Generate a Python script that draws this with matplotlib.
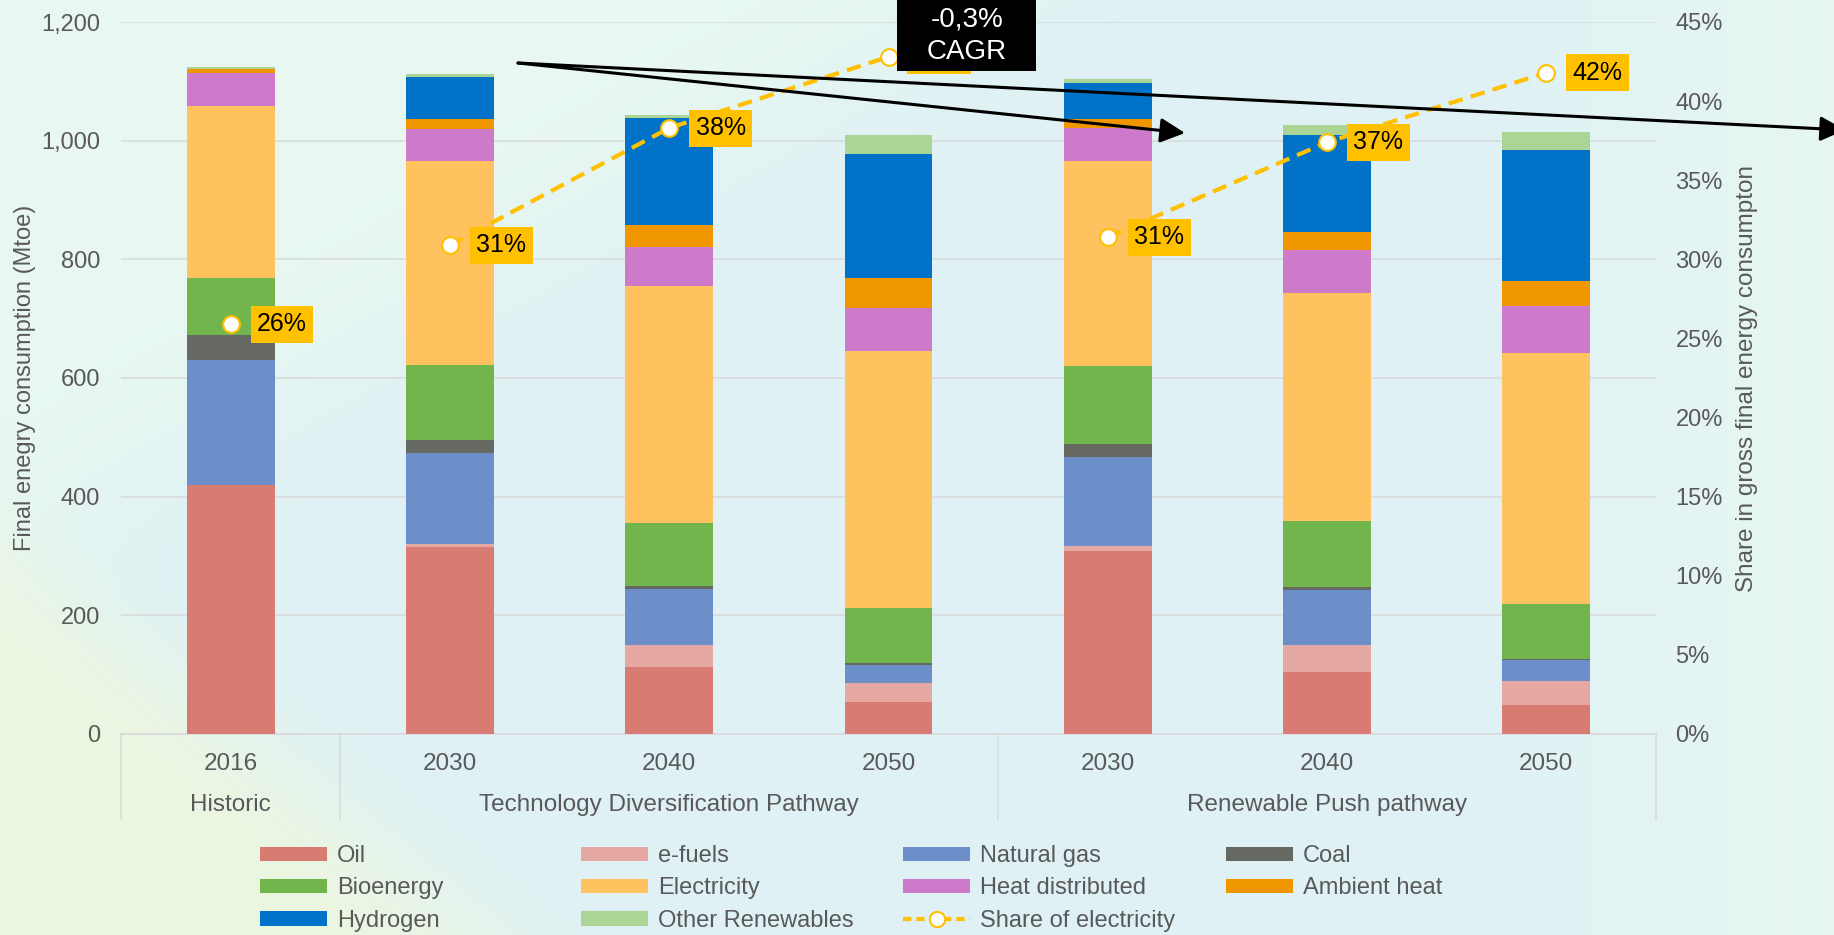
import numpy as np
import matplotlib
matplotlib.use('Agg')
import matplotlib.pyplot as plt
import matplotlib.transforms as mtransforms
from matplotlib.patches import Rectangle, FancyArrowPatch, Patch
from matplotlib.lines import Line2D
from matplotlib.colors import to_rgb
from matplotlib.ticker import FuncFormatter

plt.rcParams['font.family'] = ['Liberation Sans', 'DejaVu Sans']

# data (Mtoe)
years = ['2016', '2030', '2040', '2050', '2030', '2040', '2050']
groups = ['Historic', 'Technology Diversification Pathway', 'Renewable Push pathway']
group_members = [[0], [1, 2, 3], [4, 5, 6]]

oil = [420, 315, 113, 54, 308, 104, 49]
efuels = [0, 6, 37, 32, 9, 46, 40]
natural_gas = [210, 152, 95, 31, 150, 93, 35]
coal = [43, 23, 4, 3, 22, 4, 2]
bioenergy = [96, 126, 106, 93, 131, 112, 93]
electricity = [289, 343, 400, 432, 346, 384, 423]
heat_distributed = [56, 55, 65, 73, 55, 72, 79]
ambient_heat = [6, 16, 38, 50, 16, 31, 42]
hydrogen = [0, 71, 181, 210, 61, 163, 221]
other_renewables = [4, 5, 5, 31, 6, 18, 30]
share_electricity = [0.259, 0.309, 0.383, 0.428, 0.314, 0.374, 0.418]
covered_labels = [3]  # this share label sits under the CAGR callout

names = ['Oil', 'e-fuels', 'Natural gas', 'Coal', 'Bioenergy', 'Electricity',
         'Heat distributed', 'Ambient heat', 'Hydrogen', 'Other Renewables']
colors = ['#D87C73', '#E5A8A2', '#6C8FCA', '#666962', '#72B54D', '#FFC25E',
          '#CC7AC9', '#F09700', '#0073C8', '#AAD595']
stack = [oil, efuels, natural_gas, coal, bioenergy, electricity,
         heat_distributed, ambient_heat, hydrogen, other_renewables]

W, H = 1834, 935
grey = '#595959'
yellow = '#FFC000'

fig = plt.figure(figsize=(W / 100, H / 100), dpi=100)

# soft background
bg = fig.add_axes([0, 0, 1, 1], zorder=-10)
vv, uu = np.mgrid[0:187, 0:367]
uu = uu / 366
vv = vv / 186
blue = np.array(to_rgb('#DFF1F5'))
mint = np.array(to_rgb('#E9F8F1'))
green = np.array(to_rgb('#ECF7E1'))
m_mint = 1 / (1 + np.exp(((uu / 0.52 + vv / 0.58) - 1) * 9))
m_green = 1 / (1 + np.exp(-(vv - 0.58 - uu * 1.6) * 25))
m_right = np.clip((uu - 0.8) / 0.2, 0, 1) * 0.8
img = blue * (1 - m_mint[..., None]) + mint * m_mint[..., None]
img = img * (1 - m_right[..., None]) + mint * m_right[..., None]
img = img * (1 - m_green[..., None]) + green * m_green[..., None]
bg.imshow(img, aspect='auto', extent=[0, 1, 0, 1], interpolation='bilinear')
bg.axis('off')

ax = fig.add_axes([121 / W, 201 / H, 1535 / W, 712 / H])
ax.set_facecolor('none')
x = np.arange(len(years))
bottom = np.zeros(len(years))
for vals, color, name in zip(stack, colors, names):
    ax.bar(x, vals, 0.4, bottom=bottom, color=color, label=name, zorder=3)
    bottom += np.array(vals)

ax.set_xlim(-0.5, 6.5)
ax.set_ylim(0, 1200)
ax.set_yticks(np.arange(0, 1201, 200))
ax.yaxis.set_major_formatter(FuncFormatter(lambda v, p: f'{v:,.0f}'))
ax.set_axisbelow(True)
ax.grid(axis='y', color='#D9D9D9', lw=1.1)
for s in ['top', 'left', 'right']:
    ax.spines[s].set_visible(False)
ax.spines['bottom'].set_color('#D9D9D9')
ax.spines['bottom'].set_linewidth(1.1)
ax.set_xticks(x)
ax.set_xticklabels(years)
ax.tick_params(axis='x', length=0, pad=14, labelsize=17.5, labelcolor=grey)
ax.tick_params(axis='y', length=0, pad=15, labelsize=17, labelcolor=grey)

# multi-level category axis
trans = mtransforms.blended_transform_factory(ax.transData, ax.transAxes)
for xb in [-0.5, 0.5, 3.5, 6.5]:
    ax.plot([xb, xb], [0, -0.119], transform=trans, clip_on=False,
            color='#D9D9D9', lw=1.1)
for name, members in zip(groups, group_members):
    ax.text(np.mean(members), -0.1, name, transform=trans, ha='center',
            va='center', fontsize=17.5, color=grey)

ax2 = ax.twinx()
ax2.set_ylim(0, 0.45)
ax2.set_yticks(np.arange(0, 0.451, 0.05))
ax2.yaxis.set_major_formatter(FuncFormatter(lambda v, p: f'{v:.0%}'))
ax2.tick_params(axis='y', length=0, pad=14, labelsize=17, labelcolor=grey)
for s in ax2.spines.values():
    s.set_visible(False)

share = np.array(share_electricity)
for members in group_members:
    ax2.plot(x[members], share[members], color=yellow, lw=3, dashes=(3.5, 2),
             marker='o', ms=12, mfc='white', mec=yellow, mew=1.5, zorder=4)
for i, (xi, s) in enumerate(zip(x, share)):
    if i in covered_labels:
        # only the lower edge of this box peeks out below the black callout
        off = fig.dpi_scale_trans + mtransforms.ScaledTranslation(xi, s, ax2.transData)
        ax2.add_patch(Rectangle((0.18, -0.175), 0.64, 0.35, transform=off,
                                fc=yellow, ec='none', zorder=5))
        continue
    ax2.annotate(f'{s:.0%}', (xi, s), xytext=(19, 0), textcoords='offset points',
                 ha='left', va='center', fontsize=18, color='black',
                 bbox=dict(boxstyle='square,pad=0.26', fc=yellow, ec='none'),
                 zorder=5)

# CAGR callout and arrows
fig.patches.append(Rectangle((897 / W, 1 - 71 / H), 139 / W, 71 / H,
                             transform=fig.transFigure, fc='black', ec='none', zorder=6))
fig.text(967 / W, 1 - 36 / H, '-0,3%\nCAGR', color='white', ha='center',
         va='center', fontsize=20, linespacing=1.3, zorder=7)
for ex, ey in [(1185, 133), (1845, 130)]:
    fig.add_artist(FancyArrowPatch((518 / W, 1 - 63 / H), (ex / W, 1 - ey / H),
                                   transform=fig.transFigure,
                                   arrowstyle='-|>,head_length=0.6,head_width=0.3',
                                   mutation_scale=25, lw=2.2, color='black',
                                   shrinkA=0, shrinkB=0, zorder=6))

# axis titles
fig.text(25 / W, 1 - 378 / H, 'Final enegry consumption (Mtoe)', rotation=90,
         ha='center', va='center', fontsize=17, color=grey)
fig.text(1747 / W, 1 - 378 / H, 'Share in gross final energy consumpton',
         rotation=90, ha='center', va='center', fontsize=17.5, color=grey)

# legend laid out in 4 columns, row-major order
handles = [Patch(facecolor=c, edgecolor='none', label=n) for c, n in zip(colors, names)]
handles.append(Line2D([], [], color=yellow, lw=3, dashes=(2, 1.2), marker='o', ms=11,
                      mfc='white', mec=yellow, mew=1.5, label='Share of electricity'))
col_x = [260, 581, 903, 1226]
for c in range(4):
    fig.legend(handles=handles[c::4], loc='upper left',
               bbox_to_anchor=(col_x[c] / W, 1 - 845 / H), frameon=False,
               fontsize=17, handlelength=2.85, handleheight=0.55, handletextpad=0.4,
               labelspacing=0.44, borderpad=0, borderaxespad=0, labelcolor=grey)

fig.savefig('out.png', dpi=100)
